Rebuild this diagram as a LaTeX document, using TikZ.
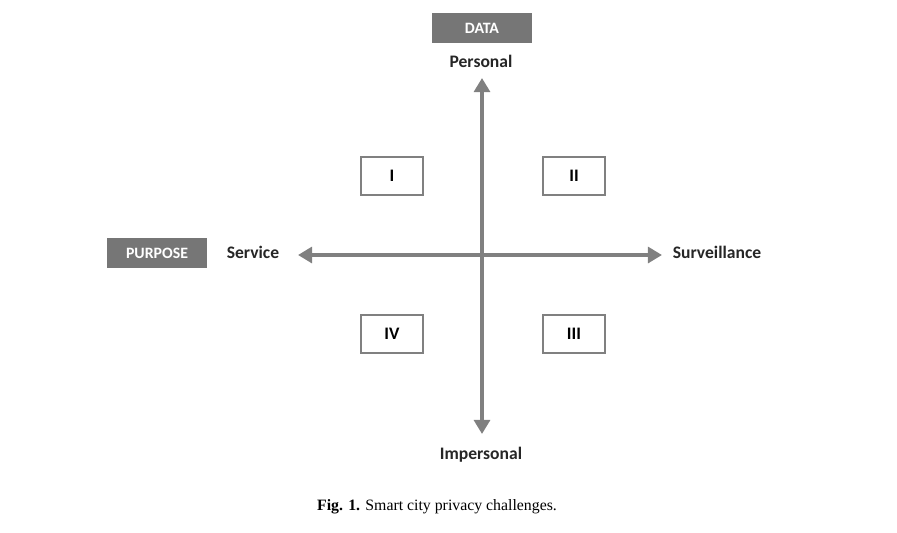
\documentclass[tikz,border=0pt]{standalone}
\usepackage{fontspec}
\setsansfont{Carlito}
\setmainfont{Liberation Serif}
\usetikzlibrary{arrows.meta}
\definecolor{axisgray}{RGB}{128,128,128}
\definecolor{tagfill}{RGB}{118,118,118}
\begin{document}
\begin{tikzpicture}[
  x=0.02cm, y=-0.02cm,
  % grey header tags
  tag/.style={fill=tagfill, text=white, font=\sffamily\bfseries\small,
    minimum width=2cm, minimum height=0.6cm, inner sep=0pt},
  % quadrant boxes
  quad/.style={draw=axisgray, line width=1.2pt, fill=white,
    minimum width=1.24cm, minimum height=0.76cm, font=\sffamily\bfseries, inner sep=0pt},
  lbl/.style={font=\sffamily\bfseries, text=black!85},
  axis/.style={draw=axisgray, line width=2.5pt, {Triangle[length=8pt,width=9pt]}-{Triangle[length=8pt,width=9pt]}},
]
  \useasboundingbox (0,0) rectangle (897,532);
  % === tags ===
  \node[tag] (data) at (482,28) {DATA};
  \node[tag] (purpose) at (157,253) {PURPOSE};
  % === axis end labels ===
  \node[lbl] (personal) at (481,61) {Personal};
  \node[lbl] (impersonal) at (481,455) {Impersonal};
  \node[lbl] (service) at (253,252) {Service};
  \node[lbl] (surv) at (717,252) {Surveillance};
  % === axes ===
  \coordinate (top) at (482,78);
  \coordinate (bot) at (482,434);
  \coordinate (lft) at (298,255);
  \coordinate (rgt) at (662,255);
  \draw[axis] (bot) -- (top);
  \draw[axis] (lft) -- (rgt);
  % === quadrants ===
  \node[quad] (q1) at (392,176) {I};
  \node[quad] (q2) at (574,176) {II};
  \node[quad] (q3) at (574,334) {III};
  \node[quad] (q4) at (392,334) {IV};
  % === caption ===
  \node (caption) at (437,507) {\small\textbf{Fig. 1.} Smart city privacy challenges.};
\end{tikzpicture}
\end{document}
